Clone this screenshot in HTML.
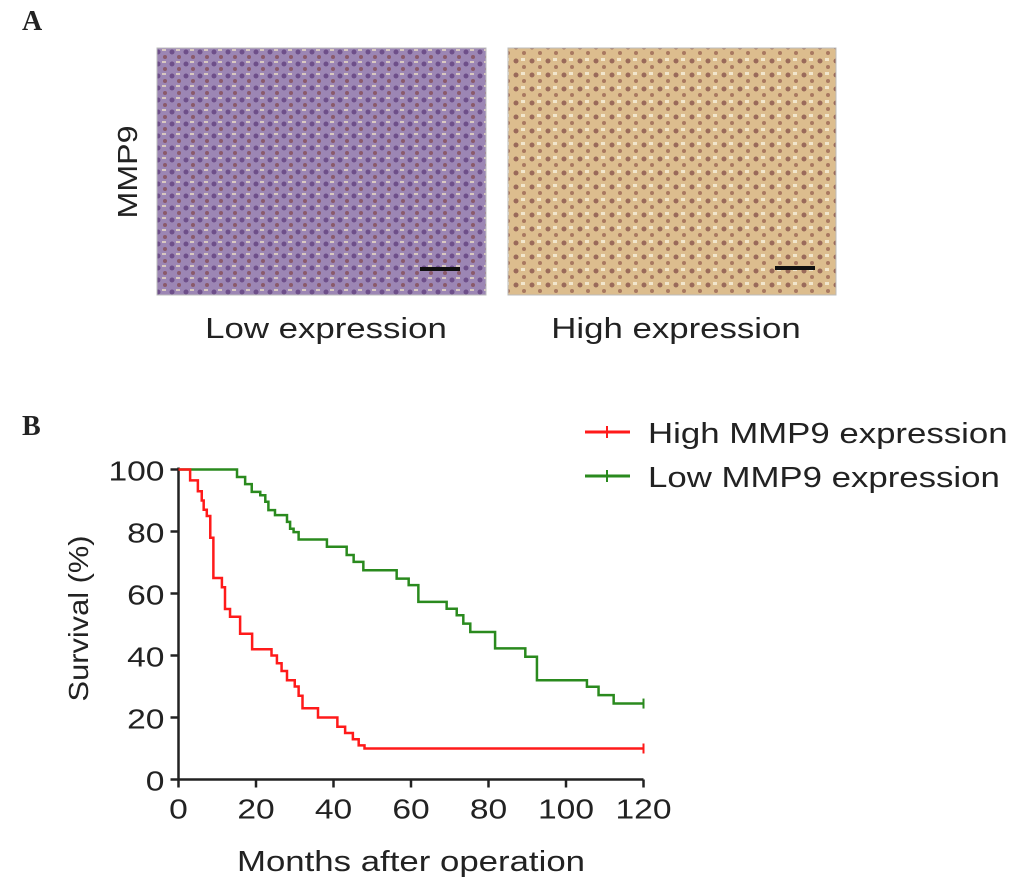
<!DOCTYPE html>
<html><head><meta charset="utf-8"><style>
body{margin:0;background:#fff;width:1033px;height:894px;overflow:hidden}
svg{display:block}
text{font-family:"Liberation Sans",sans-serif;fill:#222}
</style></head><body>
<svg id="fig" width="1033" height="894">
<defs>
<pattern id="pl" width="14" height="12" patternUnits="userSpaceOnUse">
<rect width="14" height="12" fill="#9c86b4"/><circle cx="4" cy="4" r="2.5" fill="#6e4f8a"/><circle cx="11" cy="9" r="2" fill="#8a5a6a"/><rect x="8" y="1" width="4" height="2" fill="#d8c8c0"/>
</pattern>
<pattern id="ph" width="16" height="14" patternUnits="userSpaceOnUse">
<rect width="16" height="14" fill="#dcbd8e"/><circle cx="4" cy="5" r="2.5" fill="#9a6a5a"/><circle cx="12" cy="11" r="2" fill="#a87860"/><rect x="9" y="2" width="4" height="3" fill="#f2e6cc"/>
</pattern>
</defs>
<text x="22" y="30" font-weight="bold" font-size="28" style="font-family:'Liberation Serif',serif">A</text>
<text transform="translate(137,172) rotate(-90) scale(1.15,1)" text-anchor="middle" font-size="28">MMP9</text>
<rect x="157" y="48" width="329" height="247" fill="url(#pl)" stroke="#bbb"/>
<rect x="420" y="267" width="40" height="4" fill="#111"/>
<rect x="508" y="48" width="328" height="247" fill="url(#ph)" stroke="#bbb"/>
<rect x="775" y="266" width="40" height="4" fill="#111"/>
<text transform="translate(326,338) scale(1.2,1)" text-anchor="middle" font-size="29">Low expression</text>
<text transform="translate(676,338) scale(1.2,1)" text-anchor="middle" font-size="29">High expression</text>
<text x="22" y="435" font-weight="bold" font-size="28" style="font-family:'Liberation Serif',serif">B</text>
<g id="chart"></g>
</svg>
<script>
const xTicks=[0,20,40,60,80,100,120];
const yTicks=[0,20,40,60,80,100];
const highMonths=[0,3,5,6,6.5,7.3,8.2,9,11.2,12,13.3,15.9,19,24,25.4,26.6,28,30,31,32,36,41,43,45,46.5,48];
const highSurv=[100,96.5,93,90,87,85,78,65,62,55,52.5,47,42,40,37.5,35,32,30,27,23,20,17,15,13,11,10];
const lowMonths=[0,15.1,17.2,18.9,21.1,22.4,23.2,24.9,28,28.8,29.7,31,38.3,43.4,45.2,47.7,56.3,59.4,61.9,69.2,71.8,73.5,75.3,81.7,89.5,92.5,105.4,108.4,112.3];
const lowSurv=[100,97.6,95.3,92.8,91.7,89.6,86.9,85.3,83.1,80.9,79.8,77.4,75.1,72.4,70.2,67.5,64.8,62.7,57.3,55.1,53,50.3,47.6,42.3,39.6,32,29.9,27.2,24.5];
const endMonth=120;
const X=m=>178.5+m*(643.5-178.5)/120;
const Y=v=>779.5-v*(779.5-469.5)/100;
const NS='http://www.w3.org/2000/svg';
const g=document.getElementById('chart');
function mk(t,a){const e=document.createElementNS(NS,t);for(const k in a)e.setAttribute(k,a[k]);g.appendChild(e);return e;}
let e=mk('path',{d:`M${X(0)},${Y(100)-2}V${Y(0)}H${X(120)}`,stroke:'#222','stroke-width':2.5,fill:'none'});


xTicks.forEach(t=>{
 let l=mk('line',{x1:X(t),x2:X(t),y1:Y(0),y2:Y(0)+8,stroke:'#222','stroke-width':2.5});
 
 
 let tx=mk('text',{transform:`translate(${X(t)},${Y(0)+39}) scale(1.2,1)`,'text-anchor':'middle','font-size':28});tx.textContent=t;
 
 
});
yTicks.forEach(t=>{
 let l=mk('line',{x1:X(0)-8,x2:X(0),y1:Y(t),y2:Y(t),stroke:'#222','stroke-width':2.5});
 
 
 let tx=mk('text',{transform:`translate(${X(0)-14},${Y(t)+11}) scale(1.2,1)`,'text-anchor':'end','font-size':28});tx.textContent=t;
 
 
});
let yt=mk('text',{transform:`translate(88,${Y(50)-6}) rotate(-90) scale(1.1,1)`,'text-anchor':'middle','font-size':28});yt.textContent='Survival (%)';


let xt=mk('text',{transform:`translate(${X(60)},871) scale(1.2,1)`,'text-anchor':'middle','font-size':29});xt.textContent='Months after operation';


function km(ms,vs,col,name){
 let d=`M${X(ms[0])},${Y(vs[0])}`;
 for(let i=1;i<ms.length;i++){d+=`H${X(ms[i])}V${Y(vs[i])}`;}
 d+=`H${X(endMonth)}`;
 let p=mk('path',{d:d,stroke:col,'stroke-width':2.5,fill:'none'});
 
 
 let c=mk('line',{x1:X(endMonth),x2:X(endMonth),y1:Y(vs[vs.length-1])-5,y2:Y(vs[vs.length-1])+5,stroke:col,'stroke-width':2});
 
 
}
km(lowMonths,lowSurv,'#2a8a1e','low-mmp9-curve');
km(highMonths,highSurv,'#ff1a1a','high-mmp9-curve');
[['High MMP9 expression','#ff1a1a',432],['Low MMP9 expression','#2a8a1e',476]].forEach((L,i)=>{
 let l=mk('line',{x1:585,x2:630,y1:L[2],y2:L[2],stroke:L[1],'stroke-width':3});
 
 
 let c=mk('line',{x1:607,x2:607,y1:L[2]-6,y2:L[2]+6,stroke:L[1],'stroke-width':2});
 
 
 let t=mk('text',{transform:`translate(648,${L[2]+11}) scale(1.2,1)`,'font-size':29});t.textContent=L[0];
 
 
});
</script>
</body></html>
